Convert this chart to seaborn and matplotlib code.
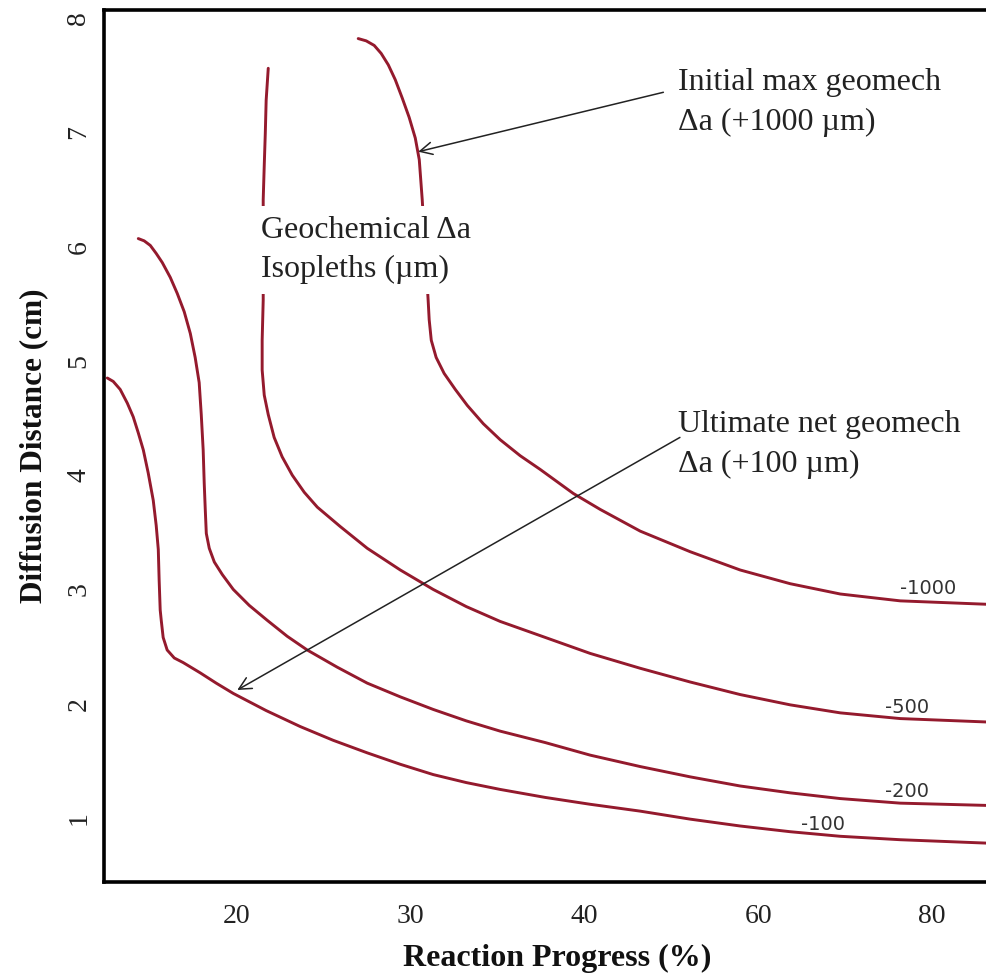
import numpy as np
import pandas as pd
import matplotlib
matplotlib.use("Agg")
import matplotlib.pyplot as plt
import seaborn as sns

# ---------------- data ----------------
iso_levels = ["-100", "-200", "-500", "-1000"]

iso100_x = [12.59, 12.93, 13.33, 13.74, 14.08, 14.37, 14.66, 14.94, 15.23, 15.40, 15.52, 15.57, 15.63,
            15.69, 15.80, 16.03, 16.44, 16.95, 17.93, 18.85, 19.83, 21.72, 23.68, 25.57, 27.53, 29.43,
            31.32, 33.22, 35.17, 37.76, 40.69, 46.44, 52.18, 57.93, 63.68, 69.43, 76.32, 86.32]
iso100_y = [4.85, 4.82, 4.75, 4.63, 4.51, 4.37, 4.22, 4.02, 3.78, 3.56, 3.35, 3.08, 2.82,
            2.73, 2.58, 2.47, 2.40, 2.36, 2.27, 2.18, 2.09, 1.94, 1.80, 1.68, 1.57, 1.47,
            1.38, 1.31, 1.25, 1.18, 1.12, 1.06, 0.99, 0.93, 0.88, 0.84, 0.81, 0.78]

iso200_x = [14.37, 14.71, 15.06, 15.40, 15.75, 16.21, 16.61, 17.01, 17.36, 17.64, 17.87, 17.99, 18.10,
            18.16, 18.22, 18.28, 18.45, 18.74, 19.20, 19.83, 20.75, 21.78, 22.93, 24.08, 25.80, 27.53,
            29.43, 31.32, 33.22, 35.17, 37.76, 40.69, 46.44, 52.18, 57.93, 63.68, 69.43, 76.32, 86.32]
iso200_y = [6.07, 6.05, 6.01, 5.94, 5.86, 5.73, 5.59, 5.43, 5.24, 5.03, 4.81, 4.53, 4.22,
            3.93, 3.70, 3.49, 3.36, 3.24, 3.13, 3.00, 2.86, 2.73, 2.59, 2.47, 2.32, 2.18,
            2.06, 1.95, 1.85, 1.76, 1.66, 1.55, 1.45, 1.36, 1.28, 1.22, 1.17, 1.13, 1.11]

iso500_x = [21.84, 21.72, 21.67, 21.61, 21.55, 21.55, 21.55, 21.49, 21.49, 21.61, 21.84, 22.18, 22.64,
            23.22, 23.91, 24.66, 25.98, 27.53, 29.43, 31.32, 33.22, 35.17, 37.76, 40.69, 46.44, 52.18,
            57.93, 63.68, 69.43, 76.32, 86.32]
iso500_y = [7.56, 7.28, 6.99, 6.71, 6.41, 5.97, 5.53, 5.18, 4.92, 4.70, 4.53, 4.33, 4.16,
            4.00, 3.85, 3.72, 3.55, 3.36, 3.17, 3.00, 2.85, 2.72, 2.58, 2.44, 2.31, 2.19,
            2.08, 1.99, 1.92, 1.87, 1.84]

iso1000_x = [27.01, 27.47, 27.93, 28.33, 28.74, 29.14, 29.54, 29.94, 30.29, 30.52, 30.69, 31.03, 31.09,
             31.21, 31.49, 31.95, 32.59, 33.28, 34.20, 35.17, 36.32, 37.47, 39.37, 41.84, 46.44, 52.18,
             57.93, 63.68, 69.43, 76.32, 86.32]
iso1000_y = [7.82, 7.80, 7.76, 7.69, 7.59, 7.46, 7.30, 7.13, 6.95, 6.76, 6.41, 5.53, 5.36,
             5.18, 5.03, 4.89, 4.75, 4.61, 4.45, 4.31, 4.17, 4.05, 3.84, 3.70, 3.51, 3.33,
             3.17, 3.05, 2.96, 2.90, 2.87]

x_ticks = [20, 30, 40, 60, 80]
x_tick_labels = ["20", "30", "40", "60", "80"]
y_ticks = [1, 2, 3, 4, 5, 6, 7, 8]
y_tick_labels = ["1", "2", "3", "4", "5", "6", "7", "8"]

# contour label positions (x %, y cm)
label_x = [67.5, 77.1, 77.1, 79.5]
label_y = [0.94, 1.23, 1.97, 3.01]

# ---------------- style ----------------
sns.set_theme(style="white")
plt.rcParams["font.family"] = ["Liberation Serif", "DejaVu Serif"]

line_color = "#941A2D"
text_color = "#222222"

fig = plt.figure(figsize=(9.87, 9.76), dpi=100)
ax = fig.add_axes([104 / 987, 1 - 882 / 976, 1 - 104 / 987, (882 - 10) / 976])

# piecewise-linear x scale (20,30,40,60,80 evenly spaced)
_pct = np.array([0, 20, 30, 40, 60, 80, 120], dtype=float)
_pos = np.array([-1, 1, 2, 3, 4, 5, 7], dtype=float)


def _fwd(x):
    return np.interp(x, _pct, _pos)


def _inv(p):
    return np.interp(p, _pos, _pct)


ax.set_xscale("function", functions=(_fwd, _inv))

curves = [(iso100_x, iso100_y), (iso200_x, iso200_y), (iso500_x, iso500_y), (iso1000_x, iso1000_y)]
for (cx, cy), lev in zip(curves, iso_levels):
    df = pd.DataFrame({"x": cx, "y": cy})
    sns.lineplot(data=df, x="x", y="y", sort=False, estimator=None, color=line_color,
                 lw=2.1, ax=ax, zorder=2, solid_capstyle="round", solid_joinstyle="round")

for lev, lx, ly in zip(iso_levels, label_x, label_y):
    ax.text(lx, ly, lev, fontsize=14, family=["DejaVu Sans"], color="#333333",
            ha="center", va="center", zorder=4)

ax.set_xlim(12.4, 86.3)
ax.set_ylim(0.44, 8.07)

ax.set_xticks(x_ticks)
ax.set_xticklabels(x_tick_labels, fontsize=20)
ax.set_yticks(y_ticks)
ax.set_yticklabels(y_tick_labels, fontsize=20, rotation=90, va="center")
ax.tick_params(axis="both", length=0, colors=text_color)
ax.tick_params(axis="x", pad=16)
ax.tick_params(axis="y", pad=9)

ax.set_xlabel("Reaction Progress (%)", fontsize=23, fontweight="bold", color="#111111")
ax.set_ylabel("Diffusion Distance (cm)", fontsize=22.5, fontweight="bold", color="#111111")
ax.xaxis.set_label_coords(0.513, -0.071)
ax.yaxis.set_label_coords(-0.063, 0.50)

for side in ["left", "top", "bottom"]:
    ax.spines[side].set_color("black")
    ax.spines[side].set_linewidth(2.6)
ax.spines["right"].set_visible(False)
ax.grid(False)

# annotations
ax.text(21.4, 5.97, "Geochemical \u0394a\nIsopleths (\u00b5m)", fontsize=23, ha="left", va="center",
        color=text_color, linespacing=1.42, zorder=3,
        bbox=dict(boxstyle="square,pad=0.33", fc="white", ec="none"))
ax.text(50.8, 7.26, "Initial max geomech\n\u0394a (+1000 \u00b5m)", fontsize=23, ha="left", va="center",
        color=text_color, linespacing=1.5, zorder=3)
ax.text(50.8, 4.27, "Ultimate net geomech\n\u0394a (+100 \u00b5m)", fontsize=23, ha="left", va="center",
        color=text_color, linespacing=1.5, zorder=3)

arrow_kw = dict(arrowstyle="->", color=text_color, lw=1.1, shrinkA=0, shrinkB=0, mutation_scale=22)
ax.annotate("", xy=(30.46, 6.83), xytext=(49.1, 7.35), arrowprops=arrow_kw, zorder=3)
ax.annotate("", xy=(20.06, 2.12), xytext=(51.0, 4.33), arrowprops=arrow_kw, zorder=3)

fig.savefig("out.png", dpi=100, facecolor="white")
